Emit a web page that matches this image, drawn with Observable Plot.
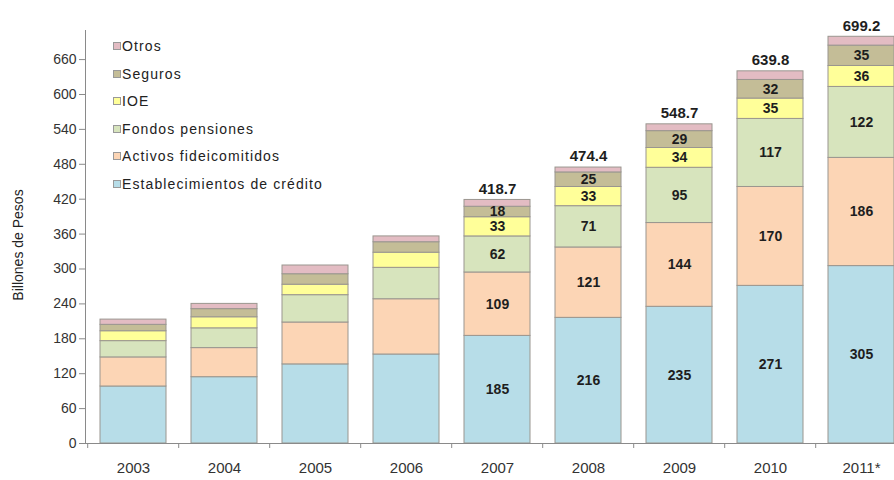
<!DOCTYPE html>
<html>
<head>
<meta charset="utf-8">
<script src="https://cdn.jsdelivr.net/npm/d3@7"></script>
<script src="https://cdn.jsdelivr.net/npm/@observablehq/plot@0.6"></script>
<style>
  body { margin: 0; background: #fff; }
  #wrap { position: relative; width: 894px; height: 480px; overflow: hidden; font-family: "Liberation Sans", Arial, sans-serif; }
  #legend { position: absolute; left: 113px; top: 33px; font-size: 14px; color: #222; letter-spacing: 1.1px; }
  #legend .row { height: 27.6px; line-height: 27.6px; white-space: nowrap; }
  #legend .sw { display: inline-block; width: 6px; height: 6px; border: 1px solid #999; margin-right: 1px; vertical-align: 1px; }
</style>
</head>
<body>
<div id="wrap"></div>
<script>
const years = ["2003", "2004", "2005", "2006", "2007", "2008", "2009", "2010", "2011*"];
const establecimientos = [98, 114, 136, 153, 185, 216, 235, 271, 305];
const activos = [50, 50, 72, 95, 109, 121, 144, 170, 186];
const fondos = [28, 34, 47, 54, 62, 71, 95, 117, 122];
const ioe = [17, 19, 18, 26, 33, 33, 34, 35, 36];
const seguros = [11, 14, 18, 18, 18, 25, 29, 32, 35];
const otros = [9, 9, 15, 10, 11.7, 8.4, 11.7, 14.8, 15.2];
const totals = [null, null, null, null, 418.7, 474.4, 548.7, 639.8, 699.2];
const labeledYears = ["2007", "2008", "2009", "2010", "2011*"];
const yTicks = [0, 60, 120, 180, 240, 300, 360, 420, 480, 540, 600, 660];

const seriesNames = ["Establecimientos de crédito", "Activos fideicomitidos", "Fondos pensiones", "IOE", "Seguros", "Otros"];
const seriesValues = [establecimientos, activos, fondos, ioe, seguros, otros];
const seriesColors = ["#b7dde8", "#fcd5b5", "#d7e4bd", "#ffff99", "#c4bd97", "#e3bcc3"];
const labeledSeries = ["Establecimientos de crédito", "Activos fideicomitidos", "Fondos pensiones", "IOE", "Seguros"];

const rows = [];
seriesNames.forEach((s, i) => {
  years.forEach((y, j) => {
    rows.push({year: y, series: s, value: seriesValues[i][j]});
  });
});
const totalRows = years.map((y, j) => ({year: y, total: totals[j]})).filter(d => d.total != null);

const font = "'Liberation Sans', Arial, sans-serif";

const chart = Plot.plot({
  width: 894,
  height: 480,
  marginLeft: 85,
  marginRight: 0,
  marginTop: 30,
  marginBottom: 37,
  style: {fontFamily: font, fontSize: "14px", color: "#333", background: "white"},
  x: {domain: years, range: [85, 909.4], paddingInner: 0.28, paddingOuter: 0.14},
  y: {domain: [0, 710]},
  color: {domain: seriesNames, range: seriesColors},
  marks: [
    Plot.barY(rows, Plot.stackY({
      x: "year", y: "value", fill: "series", order: seriesNames,
      stroke: "#9a968f", strokeWidth: 1
    })),
    Plot.text(rows, Plot.stackY({
      x: "year", y: "value", z: "series", order: seriesNames,
      text: d => (labeledYears.includes(d.year) && labeledSeries.includes(d.series)) ? String(d.value) : null,
      fontSize: 14, fontWeight: "bold", fill: "#1e1e1e", fontFamily: font
    })),
    Plot.text(totalRows, {
      x: "year", y: "total", text: d => d.total.toFixed(1), dy: -11,
      fontSize: 15, fontWeight: "bold", fill: "#1e1e1e", fontFamily: font
    }),
    Plot.frame({anchor: "left", stroke: "#8a8a8a"}),
    Plot.ruleY([0], {stroke: "#8a8a8a"}),
    Plot.axisY({ticks: yTicks, tickSize: 6, tickPadding: 3, label: null, fontSize: 14, stroke: "#8a8a8a"}),
    Plot.axisX({tickSize: 5, dx: -45.8, tickFormat: () => "", label: null, stroke: "#8a8a8a"}),
    Plot.axisX({tickSize: 0, tickPadding: 19, label: null, fontSize: 15}),
    Plot.text(["Billones de Pesos"], {frameAnchor: "left", textAnchor: "middle", rotate: -90, dx: -67, dy: 8, fontSize: 14, fill: "#222", fontFamily: font})
  ]
});

const wrap = document.getElementById("wrap");
wrap.appendChild(chart);

const legend = document.createElement("div");
legend.id = "legend";
const legendOrder = seriesNames.map((s, i) => ({s, c: seriesColors[i]})).reverse();
legendOrder.forEach(({s, c}) => {
  const row = document.createElement("div");
  row.className = "row";
  const sw = document.createElement("span");
  sw.className = "sw";
  sw.style.background = c;
  row.appendChild(sw);
  row.appendChild(document.createTextNode(s));
  legend.appendChild(row);
});
wrap.appendChild(legend);
</script>
</body>
</html>
